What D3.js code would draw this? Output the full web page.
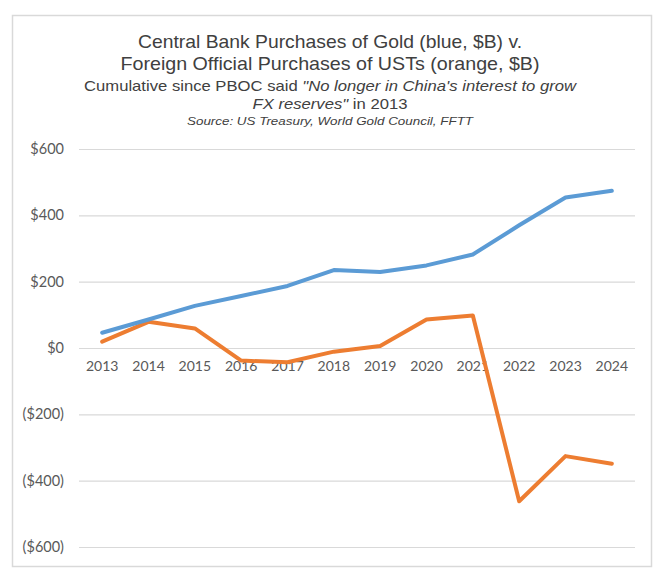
<!DOCTYPE html>
<html><head><meta charset="utf-8">
<script src="https://cdn.jsdelivr.net/npm/d3@7"></script>
<style>body{margin:0;background:#fff}</style>
</head><body>
<svg id="c" width="660" height="572"></svg>
<script>
const years = ["2013","2014","2015","2016","2017","2018","2019","2020","2021","2022","2023","2024"];
const goldValues = [46, 86, 127, 157, 187, 235, 229, 249, 282, 370, 454, 474];
const ustValues = [19, 79, 59, -38, -43, -11, 6, 86, 98, -462, -326, -349];
const yTicks = [600, 400, 200, 0, -200, -400, -600];
const titleLines = ["Central Bank Purchases of Gold (blue, $B) v.", "Foreign Official Purchases of USTs (orange, $B)"];
const sourceText = "Source: US Treasury, World Gold Council, FFTT";

const svg = d3.select("#c");
svg.append("rect").attr("x",12.5).attr("y",15.5).attr("width",639).attr("height",551)
  .attr("fill","#fff").attr("stroke","#d9d9d9").attr("stroke-width",1.5);

const x = d3.scaleBand().domain(years).range([79,635]);
const y = d3.scaleLinear().domain([-600,600]).range([547,149]);

// title
const tf = "'Liberation Sans', Arial, sans-serif";
function txt(yy, size, len){
  return svg.append("text").attr("x",330).attr("y",yy).attr("text-anchor","middle")
    .attr("font-family",tf).attr("font-size",size).attr("fill","#404040")
    .attr("textLength",len).attr("lengthAdjust","spacingAndGlyphs");
}
txt(48, 18.5, 384).text(titleLines[0]);
txt(70, 18.5, 419).text(titleLines[1]);
const st = txt(91, 15, 492);
st.append("tspan").text("Cumulative since PBOC said ");
st.append("tspan").attr("font-style","italic").text("\"No longer in China's interest to grow");
const st2 = txt(108.5, 15, 155);
st2.append("tspan").attr("font-style","italic").text("FX reserves\"");
st2.append("tspan").text(" in 2013");
txt(125, 11.5, 286).attr("font-style","italic").text(sourceText);

// y axis with gridlines
const fmt = v => v < 0 ? "($" + Math.abs(v) + ")" : "$" + v;
const yAxis = d3.axisLeft(y).tickValues(yTicks).tickFormat(fmt).tickSize(-556).tickPadding(15);
const gy = svg.append("g").attr("transform","translate(79,0)").call(yAxis);
gy.select(".domain").remove();
gy.selectAll(".tick line").attr("stroke","#d9d9d9").attr("stroke-width",1.2);
gy.selectAll(".tick text").attr("font-family","Lato, 'Open Sans', sans-serif").attr("font-size",14.5).attr("fill","#595959");

// x axis at zero
const xAxis = d3.axisBottom(x).tickSize(0).tickPadding(13);
const gx = svg.append("g").attr("transform",`translate(0,${y(0)})`).call(xAxis);
gx.select(".domain").remove();
gx.selectAll(".tick text").attr("font-family","Lato, 'Open Sans', sans-serif").attr("font-size",14).attr("fill","#595959");

const line = d3.line().x((d,i)=>x(years[i])+x.bandwidth()/2).y(d=>y(d));
svg.append("path").datum(ustValues).attr("d",line).attr("fill","none")
  .attr("stroke","#ED7D31").attr("stroke-width",4).attr("stroke-linejoin","round").attr("stroke-linecap","round");
svg.append("path").datum(goldValues).attr("d",line).attr("fill","none")
  .attr("stroke","#5B9BD5").attr("stroke-width",4).attr("stroke-linejoin","round").attr("stroke-linecap","round");
</script>
</body></html>
